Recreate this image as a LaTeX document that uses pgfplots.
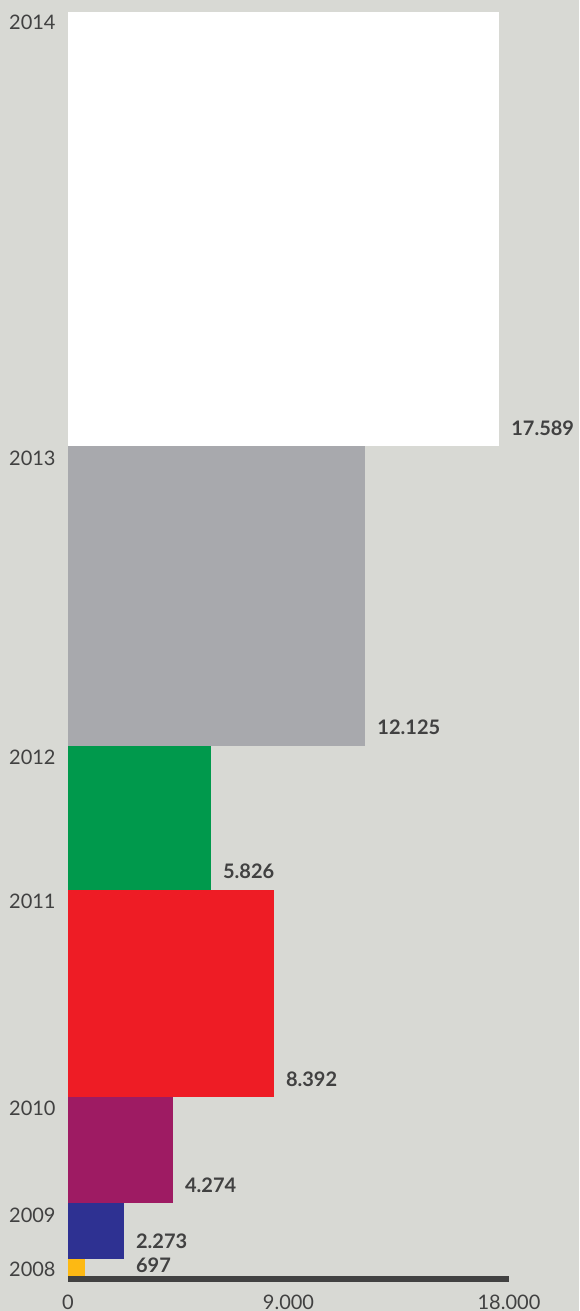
\documentclass[border=0pt]{standalone}
\usepackage{pgfplots}
\pgfplotsset{compat=1.18}
\usepackage{fontspec}
\setmainfont{Lato}
\definecolor{bg}{HTML}{D8D9D4}
\definecolor{cgray}{HTML}{A8A9AD}
\definecolor{cgreen}{HTML}{00994C}
\definecolor{cred}{HTML}{EE1C25}
\definecolor{cpurple}{HTML}{9E1B63}
\definecolor{cnavy}{HTML}{2E3192}
\definecolor{cyellow}{HTML}{FDB913}
\definecolor{ctext}{HTML}{414141}
\begin{document}
\fontsize{10pt}{12pt}\selectfont
\begin{tikzpicture}
\fill[bg] (-34pt,-17.5pt) rectangle (255.5pt,638pt);
\useasboundingbox (-34pt,-17.5pt) rectangle (255.5pt,638pt);
\begin{axis}[
  scale only axis, width=220.5pt, height=632pt,
  xmin=0, xmax=18000, ymin=0, ymax=51176,
  clip=false,
  axis line style={draw=none},
  major tick length=0pt,
  ytick=\empty,
  xtick=\empty,
  every node/.style={text=ctext},
]
% bars: squares stacked
\addplot[fill=cyellow, draw=none] coordinates {(0,0) (697,0) (697,697) (0,697)} -- cycle;
\addplot[fill=cnavy, draw=none] coordinates {(0,697) (2273,697) (2273,2970) (0,2970)} -- cycle;
\addplot[fill=cpurple, draw=none] coordinates {(0,2970) (4274,2970) (4274,7244) (0,7244)} -- cycle;
\addplot[fill=cred, draw=none] coordinates {(0,7244) (8392,7244) (8392,15636) (0,15636)} -- cycle;
\addplot[fill=cgreen, draw=none] coordinates {(0,15636) (5826,15636) (5826,21462) (0,21462)} -- cycle;
\addplot[fill=cgray, draw=none] coordinates {(0,21462) (12125,21462) (12125,33587) (0,33587)} -- cycle;
\addplot[fill=white, draw=none] coordinates {(0,33587) (17589,33587) (17589,51176) (0,51176)} -- cycle;
% axis bar
\fill[ctext] (axis cs:0,0) rectangle ([yshift=-3pt]axis cs:18000,0);
% x tick labels
\begin{scope}[every node/.style={anchor=north, inner sep=0pt, text=ctext}]
\node[yshift=-9.25pt] at (axis cs:0,0) {0};
\node[yshift=-9.25pt] at (axis cs:9000,0) {9.000};
\node[yshift=-9.25pt] at (axis cs:18000,0) {18.000};
\end{scope}
% value labels
\begin{scope}[every node/.style={anchor=base west, inner sep=0pt, text=ctext, font=\bfseries}]
\node[xshift=6pt, yshift=5.25pt] at (axis cs:17589,33587) {17.589};
\node[xshift=6pt, yshift=5.5pt] at (axis cs:12125,21462) {12.125};
\node[xshift=6pt, yshift=5.5pt] at (axis cs:5826,15636) {5.826};
\node[xshift=6pt, yshift=5.5pt] at (axis cs:8392,7244) {8.392};
\node[xshift=6pt, yshift=5pt] at (axis cs:4274,2970) {4.274};
\node[xshift=6pt, yshift=5pt] at (axis cs:2273,697) {2.273};
\node[xshift=6pt, yshift=2pt] at (axis cs:2273,0) {697};
\end{scope}
% year labels
\begin{scope}[every node/.style={anchor=north east, inner sep=0pt, text=ctext}]
\node[xshift=-6pt, yshift=-1.5pt] at (axis cs:0,51176) {2014};
\node[xshift=-6pt, yshift=-2pt] at (axis cs:0,33587) {2013};
\node[xshift=-6pt, yshift=-2pt] at (axis cs:0,21462) {2012};
\node[xshift=-6pt, yshift=-2pt] at (axis cs:0,15636) {2011};
\node[xshift=-6pt, yshift=-2pt] at (axis cs:0,7244) {2010};
\node[xshift=-6pt, yshift=-2.25pt] at (axis cs:0,2970) {2009};
\end{scope}
\node[anchor=base east, inner sep=0pt, xshift=-6pt, text=ctext] at (axis cs:0,0) {2008};
\end{axis}
\end{tikzpicture}
\end{document}
